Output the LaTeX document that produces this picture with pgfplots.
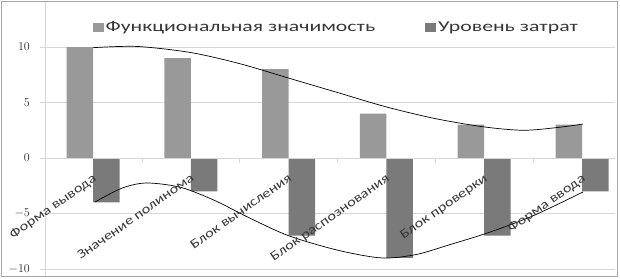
\documentclass[border=0pt]{standalone}
\usepackage{pgfplots}
\pgfplotsset{compat=1.18}
\usepackage{fontspec}
\setmainfont{Carlito}
\newfontfamily\labfont{Carlito}[FakeStretch=1.25]
\newfontfamily\legfont{Carlito}[FakeStretch=1.45]
\newfontfamily\numfont{Liberation Serif}[FakeStretch=1.7]
\definecolor{barA}{RGB}{153,153,153}
\definecolor{barB}{RGB}{122,122,122}
\definecolor{gridc}{RGB}{215,215,215}
\definecolor{txt}{RGB}{55,55,55}
\begin{document}
\begin{tikzpicture}[x=1pt,y=1pt]
\useasboundingbox (0,0) rectangle (620,278);
\begin{axis}[
  axis on top,
  at={(45pt,1.2pt)}, anchor=south west,
  scale only axis, width=570pt, height=275.3pt,
  xmin=0.509, xmax=6.337, ymin=-10.7, ymax=14.1,
  axis x line=middle, axis y line=left,
  axis line style={-, gridc, line width=0.8pt},
  ytick={-10,-5,0,5,10},
  y tick style={gridc, line width=0.8pt},
  ytick align=outside, major tick length=5pt,
  yticklabel style={font=\numfont\bfseries\fontsize{12.5}{14}\selectfont, text=txt!80!black, anchor=east, inner sep=0pt, xshift=-10pt},
  xtick={1.5,2.5,3.5,4.5,5.5}, xticklabels={},
  x tick style={gridc, line width=0.8pt},
  xtick align=outside,
  extra x ticks={1,2,3,4,5,6},
  extra x tick labels={Форма вывода, Значение полинома, Блок вычисления, Блок распознования, Блок проверки, Форма ввода},
  extra x tick style={major tick length=0pt, grid=none,
    xticklabel style={font=\labfont\fontsize{13}{15}\selectfont, text=txt, inner sep=0pt, anchor=north east, xshift=-1pt, yshift=-15pt, rotate=35}},
  ybar, bar width=26.5pt,
  legend columns=2,
  legend style={at={(axis description cs:0.078,0.905)}, anchor=west, draw=none, fill=none,
    font=\legfont\fontsize{15}{17}\selectfont, text=txt,
    /tikz/every even column/.append style={column sep=48pt}},
  clip=false,
]
\draw[gridc, line width=0.8pt] (axis cs:0.509,10) -- (axis cs:6.337,10)
  (axis cs:0.509,5) -- (axis cs:6.337,5)
  (axis cs:0.509,-5) -- (axis cs:6.337,-5)
  (axis cs:0.509,-10) -- (axis cs:6.337,-10);
\addplot[fill=barA, draw=none, bar shift=-13.25pt,
  legend image code/.code={\fill[barA] (0pt,-4.5pt) rectangle (11pt,4.5pt);}]
  coordinates {(1,10) (2,9) (3,8) (4,4) (5,3) (6,3)};
\addlegendentry{Функциональная значимость}
\addplot[fill=barB, draw=none, bar shift=13.25pt,
  legend image code/.code={\fill[barB] (0pt,-4.5pt) rectangle (11pt,4.5pt);}]
  coordinates {(1,-4) (2,-3) (3,-7) (4,-9) (5,-7) (6,-3)};
\addlegendentry{Уровень затрат}
\addplot[smooth, black, line width=0.7pt, forget plot]
  coordinates {(1.0,9.94) (1.45,10.05) (2.0,9.5) (2.5,8.5) (3.0,7.2) (3.5,5.9) (4.0,4.6) (4.5,3.55) (5.0,2.8) (5.4,2.5) (5.75,2.75) (6.01,3.06)};
\addplot[smooth, black, line width=0.7pt, forget plot]
  coordinates {(1.02,-3.96) (1.3,-2.7) (1.55,-2.25) (1.9,-2.65) (2.25,-3.85) (2.6,-5.4) (3.0,-7.0) (3.5,-8.3) (3.95,-9.0) (4.3,-8.7) (4.65,-7.8) (5.05,-6.7) (5.5,-5.2) (6.01,-3.06)};
\end{axis}
\draw[gray!70, line width=1pt] (1.5,1.5) rectangle (617.5,276.5);
\end{tikzpicture}
\end{document}
